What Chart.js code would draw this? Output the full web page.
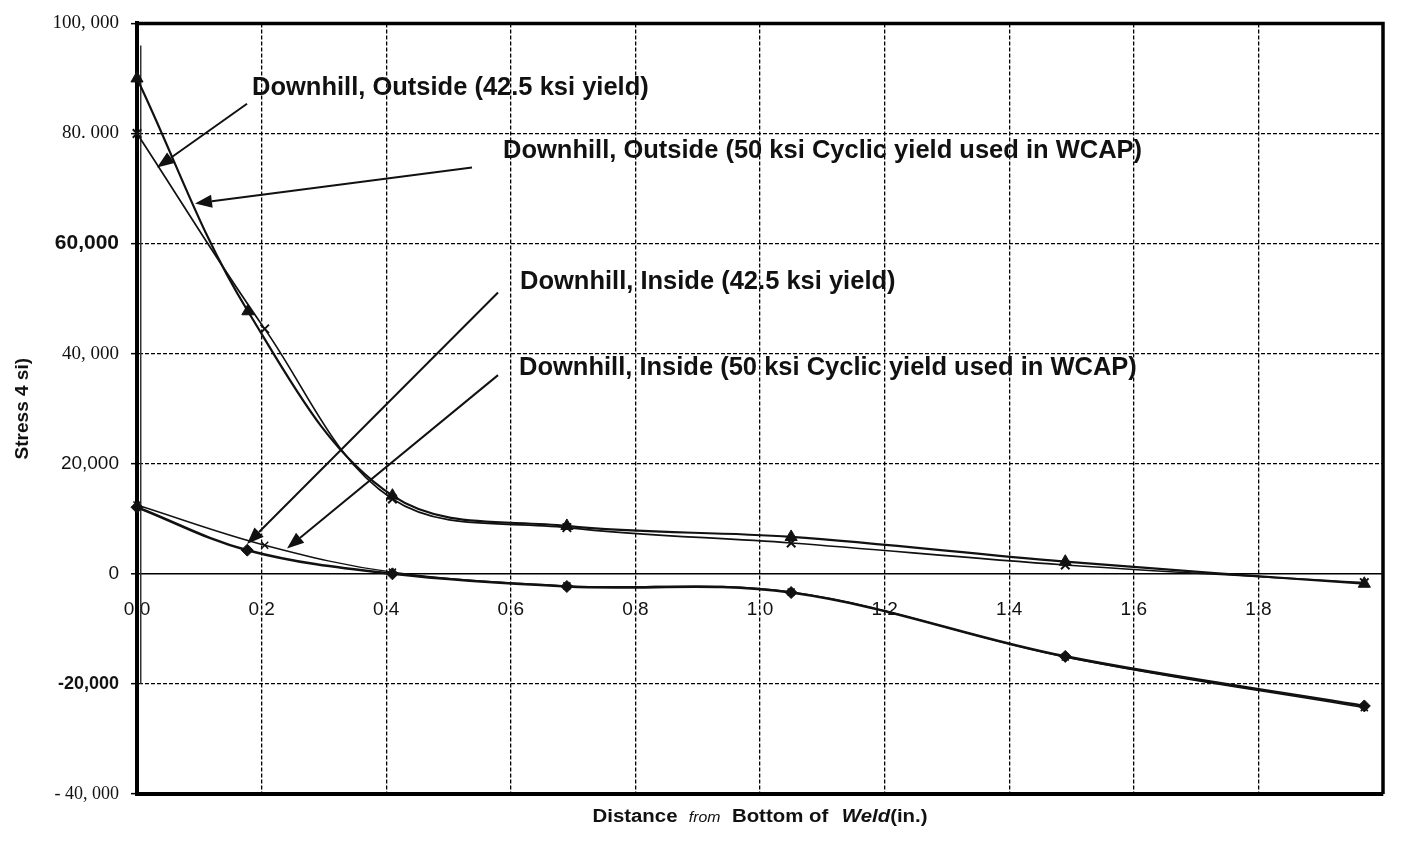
<!DOCTYPE html>
<html>
<head>
<meta charset="utf-8">
<title>Stress vs Distance from Bottom of Weld</title>
<script src="https://cdn.jsdelivr.net/npm/chart.js@4.4.1/dist/chart.umd.min.js"></script>
<style>
  html, body { margin: 0; padding: 0; background: #fff; }
  #wrap { width: 1406px; height: 843px; }
</style>
</head>
<body>
<div id="wrap"><canvas id="chart" width="1406" height="843"></canvas></div>
<script>
// ── Data ──────────────────────────────────────────────────────────────────────
const seriesNames = [
  'Downhill, Outside (50 ksi Cyclic yield used in WCAP)',
  'Downhill, Outside (42.5 ksi yield)',
  'Downhill, Inside (42.5 ksi yield)',
  'Downhill, Inside (50 ksi Cyclic yield used in WCAP)',
];
const outX50 = [0, 0.178, 0.41, 0.69, 1.05, 1.49, 1.97];
const outY50 = [90000, 47700, 14200, 8700, 6700, 2200, -1800];
const outX42 = [0, 0.205, 0.41, 0.69, 1.05, 1.49, 1.97];
const outY42 = [80000, 44500, 13600, 8400, 5600, 1600, -1600];
const inX42  = [0, 0.177, 0.41, 0.69, 1.05, 1.49, 1.97];
const inY42  = [12100, 4300, 0, -2300, -3400, -15000, -24000];
const inX50  = [0, 0.205, 0.41, 0.69, 1.05, 1.49, 1.97];
const inY50  = [12500, 5200, 300, -2200, -3300, -15100, -24300];
const weldX  = [0.006, 0.006];
const weldY  = [96000, -20000];

const xTickLabels = ['0.0', '0.2', '0.4', '0.6', '0.8', '1.0', '1.2', '1.4', '1.6', '1.8', ''];
const yTickValues = [-40000, -20000, 0, 20000, 40000, 60000, 80000, 100000];
const yTickLabels = ['- 40, 000', '-20,000', '0', '20,000', '40, 000', '60,000', '80. 000', '100, 000'];

// ── Styles ────────────────────────────────────────────────────────────────────
const SERIF = 'Liberation Serif';
const SANS  = 'Liberation Sans';
const yTickFonts = [
  { family: SERIF, size: 18 },
  { family: SANS,  size: 18, weight: 'bold' },
  { family: SANS,  size: 19 },
  { family: SANS,  size: 19 },
  { family: SERIF, size: 19 },
  { family: SANS,  size: 21, weight: 'bold' },
  { family: SERIF, size: 19 },
  { family: SERIF, size: 19 },
];

// callouts: text anchor and arrow, all in data units
const notes = [
  { text: seriesNames[1], at: [0.1846, 87000], from: [0.1766, 85400], to: [0.0321, 73800] },
  { text: seriesNames[0], at: [0.5875, 75600], from: [0.5377, 73800], to: [0.0931, 67300] },
  { text: seriesNames[2], at: [0.6148, 51800], from: [0.5795, 51100], to: [0.1766, 5400] },
  { text: seriesNames[3], at: [0.6132, 36200], from: [0.5795, 36100], to: [0.2408, 4600] },
];

const pts = (xs, ys) => xs.map((x, i) => ({ x, y: ys[i] }));

const common = {
  fill: false, tension: 0.36, clip: false,
  borderColor: '#111', pointBorderColor: '#111', pointBackgroundColor: '#111',
};

// ── Plugin: box edges, callouts, x title ──────────────────────────────────────
function arrow(ctx, x1, y1, x2, y2) {
  const ang = Math.atan2(y2 - y1, x2 - x1);
  const len = 17, half = 6.5;
  const bx = x2 - len * Math.cos(ang), by = y2 - len * Math.sin(ang);
  ctx.beginPath();
  ctx.moveTo(x1, y1);
  ctx.lineTo(bx, by);
  ctx.stroke();
  ctx.beginPath();
  ctx.moveTo(x2, y2);
  ctx.lineTo(bx + half * Math.sin(ang), by - half * Math.cos(ang));
  ctx.lineTo(bx - half * Math.sin(ang), by + half * Math.cos(ang));
  ctx.closePath();
  ctx.fill();
}

const decor = {
  id: 'decor',
  afterDraw(chart) {
    const { ctx, chartArea: a, scales: { x, y } } = chart;
    ctx.save();
    ctx.strokeStyle = '#000';
    ctx.lineWidth = 3.5;
    ctx.beginPath();
    ctx.moveTo(a.left, a.top);
    ctx.lineTo(a.right, a.top);
    ctx.lineTo(a.right, a.bottom);
    ctx.stroke();

    ctx.fillStyle = '#111';
    ctx.strokeStyle = '#111';
    ctx.lineWidth = 2;
    ctx.font = `bold 25.5px "${SANS}", Arial, sans-serif`;
    ctx.textBaseline = 'alphabetic';
    notes.forEach(n => {
      ctx.fillText(n.text, x.getPixelForValue(n.at[0]), y.getPixelForValue(n.at[1]));
      arrow(ctx,
        x.getPixelForValue(n.from[0]), y.getPixelForValue(n.from[1]),
        x.getPixelForValue(n.to[0]), y.getPixelForValue(n.to[1]));
    });

    // x axis title, mixed fonts as in the scan
    const segs = [
      ['Distance', `bold 18px "${SANS}"`],
      ['from', `italic 14px "${SANS}"`],
      ['Bottom of', `bold 18px "${SANS}"`],
      ['Weld', `italic bold 18px "${SANS}"`],
      ['(in.)', `bold 18px "${SANS}"`],
    ];
    const gaps = [10, 10, 12, 0, 0];
    let total = 0;
    segs.forEach(([t, f], i) => { ctx.font = f; total += ctx.measureText(t).width + gaps[i]; });
    const target = 335;
    const sx = target / total;
    const cx = x.getPixelForValue(1.0);
    ctx.translate(cx - target / 2, a.bottom + 28);
    ctx.scale(sx, 1);
    let px = 0;
    segs.forEach(([t, f], i) => {
      ctx.font = f;
      ctx.fillText(t, px, 0);
      px += ctx.measureText(t).width + gaps[i];
    });
    ctx.restore();
  },
};

// ── Chart ─────────────────────────────────────────────────────────────────────
const chart = new Chart(document.getElementById('chart'), {
  type: 'line',
  data: {
    datasets: [
      { ...common, label: seriesNames[0], data: pts(outX50, outY50), borderWidth: 2.2,
        pointStyle: 'triangle', pointRadius: 7, pointBorderWidth: 1 },
      { ...common, label: seriesNames[1], data: pts(outX42, outY42), borderWidth: 1.7,
        pointStyle: 'crossRot', pointRadius: 6, pointBorderWidth: 2 },
      { ...common, label: seriesNames[2], data: pts(inX42, inY42), borderWidth: 2.6,
        pointStyle: 'rectRot', pointRadius: 6, pointBorderWidth: 1 },
      { ...common, label: seriesNames[3], data: pts(inX50, inY50), borderWidth: 1.4,
        pointStyle: 'crossRot', pointRadius: 5, pointBorderWidth: 1.5 },
      { ...common, label: 'weld', data: pts(weldX, weldY), borderWidth: 1.5, borderColor: '#333',
        pointRadius: 0, tension: 0 },
    ],
  },
  options: {
    responsive: false,
    animation: false,
    events: [],
    layout: { padding: { top: 19, right: 23, bottom: 0, left: 0 } },
    plugins: { legend: { display: false }, tooltip: { enabled: false } },
    scales: {
      x: {
        type: 'linear', min: 0, max: 2, position: 'bottom',
        ticks: { display: false, stepSize: 0.2 },
        grid: { color: '#000', lineWidth: 1.3, drawTicks: false },
        border: { display: true, color: '#000', width: 4, dash: [4, 2] },
        afterFit: s => { s.height = 49; },
      },
      x2: {
        type: 'linear', axis: 'x', position: { y: 0 }, min: 0, max: 2,
        ticks: {
          stepSize: 0.2, autoSkip: false, maxRotation: 0, padding: 17, color: '#111',
          font: { family: SANS, size: 19 },
          callback: (v, i) => xTickLabels[i] ?? '',
        },
        grid: { display: false },
        border: { display: false },
      },
      y: {
        type: 'linear', min: -40000, max: 100000,
        ticks: {
          stepSize: 20000, padding: 12, color: '#111',
          callback: v => { const i = yTickValues.indexOf(v); return i < 0 ? '' : yTickLabels[i]; },
          font: c => yTickFonts[Math.max(0, yTickValues.indexOf(c.tick ? c.tick.value : 0))],
        },
        grid: {
          color: '#000', tickColor: '#000', tickLength: 6, tickWidth: 1.5,
          lineWidth: c => (c.tick && c.tick.value === 0 ? 1.6 : 1.3),
        },
        border: {
          display: true, color: '#000', width: 4,
          dash: c => (c.tick && c.tick.value === 0 ? [] : [4, 2]),
        },
        title: {
          display: true, text: 'Stress 4 si)', color: '#111',
          font: { family: SANS, size: 19, weight: 'bold' },
          padding: { top: 11, bottom: 0 },
        },
        afterFit: s => { s.width = 137; },
      },
    },
  },
  plugins: [decor],
});
</script>
</body>
</html>
